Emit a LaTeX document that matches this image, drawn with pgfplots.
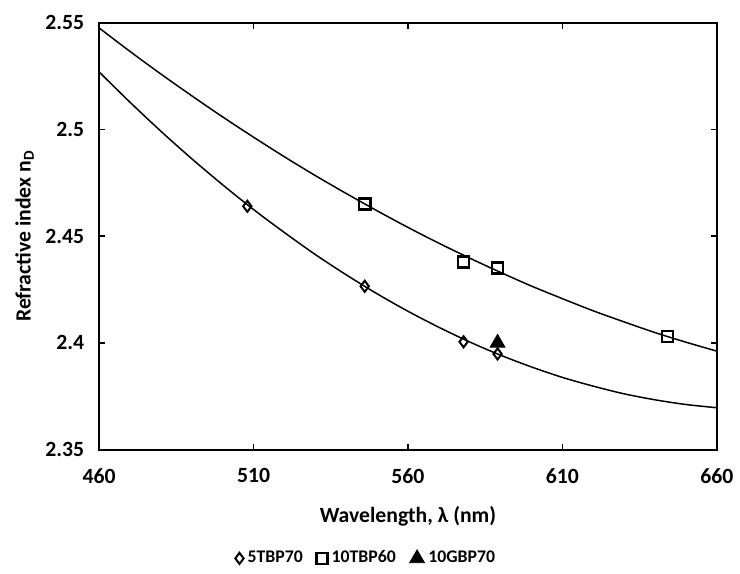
\documentclass[border=0pt]{standalone}
\usepackage{fontspec}
\setmainfont{Carlito}
\usepackage{pgfplots}
\pgfplotsset{compat=1.18}

\begin{document}
\begin{tikzpicture}
\begin{axis}[
  scale only axis,
  width=312bp,
  height=215.5bp,
  xmin=460, xmax=660,
  ymin=2.35, ymax=2.55,
  xtick={460,510,560,610,660},
  ytick={2.35,2.4,2.45,2.5,2.55},
  tick align=inside,
  major tick length=3bp,
  axis line style={line width=1bp},
  every tick/.style={black, line width=0.7bp},
  font=\bfseries\fontsize{11}{13}\selectfont,
  /pgf/number format/assume math mode=true,
  yticklabel style={/pgf/number format/fixed, xshift=-4bp},
  xticklabel style={yshift=-6bp},
  xlabel={Wavelength, λ (nm)},
  ylabel={Refractive index n\textsubscript{D}},
  xlabel style={yshift=-5bp},
  ylabel style={yshift=-1bp},
  clip=false,
  legend columns=-1,
  legend style={draw=none, at={(rel axis cs:0.434,-0.255)}, anchor=center,
    font=\bfseries\fontsize{9}{11}\selectfont,
    /tikz/every even column/.append style={column sep=5bp}},
  legend image code/.code={\draw[#1] plot coordinates {(0.12cm,0cm)};},
]
% fitted trend line, 10TBP60
\addplot[black, line width=0.75bp, smooth, forget plot] coordinates {
  (460,2.5476) (470,2.5366) (480,2.5260) (490,2.5158) (500,2.5059)
  (510,2.4964) (520,2.4872) (530,2.4784) (540,2.4700) (550,2.4619)
  (560,2.4541) (570,2.4467) (580,2.4397) (590,2.4330) (600,2.4266)
  (610,2.4207) (620,2.4150) (630,2.4098) (640,2.4048) (650,2.4003)
  (660,2.3961)
};
% fitted trend line, 5TBP70
\addplot[black, line width=0.75bp, smooth, forget plot] coordinates {
  (460,2.5270) (470,2.5128) (480,2.4992) (490,2.4863) (500,2.4741)
  (510,2.4625) (520,2.4517) (530,2.4414) (540,2.4319) (550,2.4230)
  (560,2.4148) (570,2.4073) (580,2.4004) (590,2.3942) (600,2.3887)
  (610,2.3838) (620,2.3797) (630,2.3761) (640,2.3733) (650,2.3711)
  (660,2.3696)
};
\addplot[only marks, mark=diamond, mark size=2.8bp, black, line width=1bp,
  fill=white] coordinates {
  (508,2.464) (546,2.4265) (578,2.4005) (589,2.3948)
};
\addplot[only marks, mark=square, mark size=2.8bp, black, line width=1.3bp,
  fill=white] coordinates {
  (546,2.465) (578,2.438) (589,2.435) (644,2.403)
};
\addplot[only marks, mark=triangle*, mark size=4.3bp, black] coordinates {
  (589,2.400)
};
\legend{5TBP70,10TBP60,10GBP70}
\end{axis}
\path ([shift={(-50bp,-57.5bp)}]current axis.south west)
  rectangle ([shift={(8bp,11.5bp)}]current axis.north east);
\end{tikzpicture}
\end{document}
